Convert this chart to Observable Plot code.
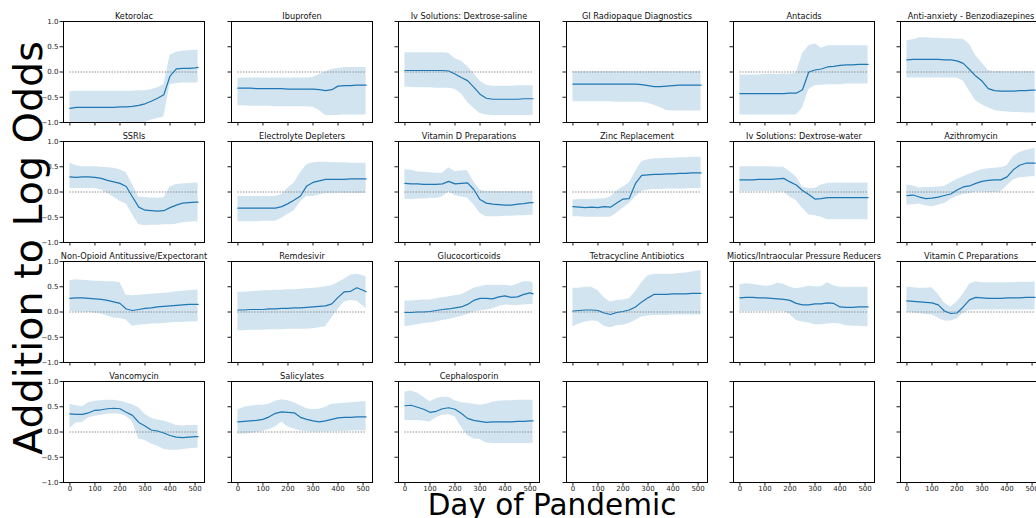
<!DOCTYPE html>
<html>
<head>
<meta charset="utf-8">
<script src="https://cdn.jsdelivr.net/npm/d3@7"></script>
<script src="https://cdn.jsdelivr.net/npm/@observablehq/plot@0.6"></script>
<style>
  html, body { margin: 0; padding: 0; background: white; }
  #chart { position: relative; width: 1036px; height: 518px; overflow: hidden; font-family: "DejaVu Sans", sans-serif; }
</style>
</head>
<body>
<div id="chart"></div>
<script>
const days = [0,25,50,75,100,125,150,175,200,225,250,275,300,325,350,375,400,425,450,475,500,512];
const xTicks = [0,100,200,300,400,500];
const yTicks = [-1,-0.5,0,0.5,1];
const drugNames = ["Ketorolac","Ibuprofen","Iv Solutions: Dextrose-saline","GI Radiopaque Diagnostics","Antacids","Anti-anxiety - Benzodiazepines",
  "SSRIs","Electrolyte Depleters","Vitamin D Preparations","Zinc Replacement","Iv Solutions: Dextrose-water","Azithromycin",
  "Non-Opioid Antitussive/Expectorant","Remdesivir","Glucocorticoids","Tetracycline Antibiotics","Miotics/Intraocular Pressure Reducers","Vitamin C Preparations",
  "Vancomycin","Salicylates","Cephalosporin"];

const mean_ketorolac = [-0.72,-0.70,-0.70,-0.70,-0.70,-0.70,-0.70,-0.70,-0.69,-0.69,-0.68,-0.66,-0.63,-0.58,-0.52,-0.45,-0.08,0.06,0.07,0.07,0.08,0.09];
const hi_ketorolac = [-0.39,-0.38,-0.38,-0.38,-0.38,-0.38,-0.38,-0.38,-0.38,-0.38,-0.38,-0.37,-0.37,-0.35,-0.31,-0.25,0.33,0.39,0.41,0.42,0.43,0.43];
const lo_ketorolac = [-1.2,-1.2,-1.2,-1.2,-1.2,-1.2,-1.2,-1.2,-1.2,-1.2,-1.2,-1.05,-1.0,-0.95,-0.92,-0.89,-0.25,-0.23,-0.22,-0.22,-0.22,-0.22];

const mean_ibuprofen = [-0.32,-0.32,-0.32,-0.33,-0.33,-0.33,-0.33,-0.33,-0.34,-0.34,-0.34,-0.34,-0.34,-0.35,-0.37,-0.35,-0.28,-0.27,-0.27,-0.26,-0.26,-0.26];
const hi_ibuprofen = [-0.13,-0.12,-0.12,-0.12,-0.12,-0.12,-0.12,-0.12,-0.12,-0.12,-0.12,-0.12,-0.11,-0.05,0.0,0.05,0.07,0.09,0.09,0.09,0.09,0.09];
const lo_ibuprofen = [-0.67,-0.67,-0.68,-0.68,-0.68,-0.68,-0.69,-0.69,-0.69,-0.69,-0.69,-0.69,-0.70,-0.76,-0.86,-0.86,-0.86,-0.85,-0.85,-0.85,-0.85,-0.85];

const mean_dexSaline = [0.03,0.03,0.03,0.03,0.03,0.03,0.03,0.02,-0.04,-0.11,-0.17,-0.30,-0.44,-0.52,-0.54,-0.54,-0.54,-0.54,-0.54,-0.53,-0.53,-0.53];
const hi_dexSaline = [0.38,0.38,0.38,0.38,0.38,0.38,0.38,0.37,0.26,0.22,0.11,-0.03,-0.18,-0.26,-0.28,-0.28,-0.28,-0.28,-0.27,-0.27,-0.27,-0.27];
const lo_dexSaline = [-0.30,-0.30,-0.31,-0.31,-0.31,-0.32,-0.32,-0.32,-0.34,-0.43,-0.60,-0.72,-0.82,-0.85,-0.86,-0.86,-0.86,-0.86,-0.86,-0.86,-0.86,-0.86];

const mean_giRadio = [-0.24,-0.24,-0.24,-0.24,-0.24,-0.24,-0.24,-0.24,-0.24,-0.24,-0.24,-0.25,-0.27,-0.29,-0.29,-0.28,-0.27,-0.26,-0.26,-0.26,-0.26,-0.26];
const hi_giRadio = [0.01,0.01,0.01,0.01,0.01,0.01,0.01,0.01,0.01,0.01,0.01,0.01,0.01,0.01,0.01,0.01,0.01,0.01,0.01,0.01,0.01,0.01];
const lo_giRadio = [-0.59,-0.59,-0.59,-0.59,-0.59,-0.59,-0.59,-0.60,-0.60,-0.60,-0.60,-0.60,-0.62,-0.66,-0.71,-0.76,-0.77,-0.77,-0.77,-0.77,-0.77,-0.77];

const mean_antacids = [-0.43,-0.43,-0.43,-0.43,-0.43,-0.43,-0.43,-0.43,-0.42,-0.42,-0.35,0.0,0.04,0.06,0.10,0.11,0.13,0.14,0.14,0.15,0.15,0.15];
const hi_antacids = [-0.06,-0.06,-0.06,-0.06,-0.05,-0.05,-0.05,-0.04,-0.04,-0.03,0.36,0.52,0.56,0.47,0.52,0.52,0.52,0.52,0.52,0.52,0.52,0.52];
const lo_antacids = [-0.85,-0.85,-0.85,-0.85,-0.85,-0.85,-0.85,-0.85,-0.85,-0.85,-0.72,-0.35,-0.27,-0.26,-0.25,-0.25,-0.25,-0.24,-0.24,-0.24,-0.24,-0.24];

const mean_benzo = [0.24,0.25,0.25,0.25,0.25,0.25,0.24,0.24,0.22,0.17,0.05,-0.08,-0.18,-0.33,-0.37,-0.38,-0.38,-0.38,-0.37,-0.37,-0.36,-0.36];
const hi_benzo = [0.62,0.64,0.68,0.68,0.67,0.67,0.66,0.66,0.65,0.65,0.55,0.32,0.18,0.03,0.01,0.01,0.01,0.01,0.01,0.01,0.01,0.01];
const lo_benzo = [-0.12,-0.12,-0.12,-0.12,-0.12,-0.12,-0.12,-0.12,-0.12,-0.18,-0.38,-0.57,-0.65,-0.71,-0.76,-0.78,-0.79,-0.80,-0.80,-0.81,-0.81,-0.81];

const mean_ssri = [0.30,0.29,0.30,0.30,0.29,0.27,0.23,0.20,0.17,0.11,-0.10,-0.30,-0.36,-0.37,-0.38,-0.37,-0.31,-0.26,-0.22,-0.21,-0.20,-0.20];
const hi_ssri = [0.57,0.52,0.50,0.50,0.50,0.49,0.48,0.47,0.44,0.38,0.15,-0.10,-0.11,-0.12,-0.12,-0.12,0.10,0.15,0.16,0.17,0.18,0.18];
const lo_ssri = [0.07,0.07,0.07,0.07,0.07,0.04,-0.03,-0.10,-0.19,-0.24,-0.45,-0.65,-0.67,-0.66,-0.66,-0.65,-0.65,-0.64,-0.61,-0.60,-0.59,-0.59];

const mean_electro = [-0.32,-0.32,-0.32,-0.32,-0.32,-0.32,-0.32,-0.29,-0.23,-0.16,-0.08,0.12,0.19,0.22,0.25,0.25,0.25,0.25,0.26,0.26,0.26,0.26];
const hi_electro = [-0.09,-0.09,-0.09,-0.09,-0.09,-0.09,-0.09,-0.05,0.08,0.18,0.38,0.54,0.58,0.59,0.59,0.58,0.58,0.58,0.57,0.57,0.57,0.57];
const lo_electro = [-0.59,-0.59,-0.59,-0.59,-0.58,-0.58,-0.58,-0.52,-0.44,-0.37,-0.20,-0.09,-0.09,-0.06,-0.03,-0.03,-0.03,-0.03,-0.03,-0.03,-0.03,-0.03];

const mean_vitD = [0.17,0.16,0.16,0.15,0.15,0.15,0.16,0.21,0.16,0.17,0.18,0.05,-0.15,-0.22,-0.24,-0.25,-0.26,-0.26,-0.24,-0.23,-0.21,-0.21];
const hi_vitD = [0.44,0.43,0.40,0.39,0.38,0.37,0.37,0.48,0.40,0.42,0.42,0.20,0.04,0.01,0.01,0.01,0.01,0.01,0.01,0.01,0.01,0.01];
const lo_vitD = [-0.15,-0.15,-0.14,-0.14,-0.13,-0.13,-0.10,0.0,-0.07,-0.10,-0.12,-0.25,-0.42,-0.49,-0.49,-0.49,-0.48,-0.48,-0.47,-0.47,-0.46,-0.46];

const mean_zinc = [-0.29,-0.30,-0.31,-0.30,-0.31,-0.29,-0.30,-0.22,-0.14,-0.13,0.17,0.33,0.34,0.35,0.35,0.36,0.36,0.37,0.37,0.38,0.38,0.38];
const hi_zinc = [-0.16,-0.15,-0.15,-0.15,-0.14,-0.14,-0.10,0.02,0.10,0.18,0.40,0.60,0.64,0.66,0.66,0.67,0.67,0.68,0.68,0.69,0.69,0.69];
const lo_zinc = [-0.49,-0.49,-0.50,-0.50,-0.50,-0.50,-0.50,-0.42,-0.32,-0.23,-0.10,0.01,0.04,0.05,0.05,0.06,0.06,0.06,0.06,0.07,0.07,0.07];

const mean_dexWater = [0.24,0.24,0.24,0.25,0.25,0.25,0.26,0.27,0.20,0.14,0.03,-0.05,-0.14,-0.13,-0.11,-0.11,-0.11,-0.11,-0.11,-0.11,-0.11,-0.11];
const hi_dexWater = [0.50,0.50,0.50,0.50,0.50,0.50,0.49,0.49,0.40,0.30,0.10,0.07,0.07,0.14,0.17,0.18,0.18,0.18,0.18,0.18,0.18,0.18];
const lo_dexWater = [0.01,0.01,0.01,0.01,0.01,0.01,0.0,0.0,-0.10,-0.17,-0.32,-0.45,-0.47,-0.50,-0.55,-0.55,-0.55,-0.55,-0.55,-0.55,-0.55,-0.55];

const mean_azithro = [-0.07,-0.06,-0.10,-0.13,-0.12,-0.10,-0.07,-0.04,0.04,0.10,0.12,0.17,0.21,0.23,0.24,0.24,0.30,0.44,0.53,0.57,0.57,0.57];
const hi_azithro = [0.14,0.12,0.08,0.09,0.09,0.10,0.11,0.18,0.25,0.30,0.35,0.40,0.44,0.46,0.47,0.48,0.52,0.70,0.78,0.82,0.85,0.86];
const lo_azithro = [-0.26,-0.25,-0.24,-0.27,-0.29,-0.26,-0.23,-0.15,-0.09,-0.05,-0.03,0.0,0.0,-0.01,-0.01,0.0,0.12,0.24,0.28,0.29,0.30,0.30];

const mean_nonOpioid = [0.27,0.28,0.28,0.27,0.26,0.25,0.23,0.20,0.17,0.06,0.03,0.05,0.07,0.08,0.10,0.11,0.12,0.13,0.14,0.15,0.15,0.15];
const hi_nonOpioid = [0.62,0.64,0.63,0.62,0.61,0.61,0.60,0.60,0.58,0.33,0.32,0.33,0.34,0.35,0.36,0.37,0.38,0.40,0.41,0.42,0.43,0.43];
const lo_nonOpioid = [0.01,0.0,0.0,-0.01,-0.02,-0.04,-0.08,-0.12,-0.13,-0.16,-0.28,-0.26,-0.25,-0.24,-0.24,-0.23,-0.22,-0.21,-0.21,-0.20,-0.20,-0.19];

const mean_remdesivir = [0.04,0.04,0.05,0.05,0.05,0.06,0.06,0.07,0.07,0.08,0.08,0.09,0.10,0.11,0.12,0.16,0.29,0.40,0.41,0.48,0.43,0.40];
const hi_remdesivir = [0.39,0.39,0.40,0.41,0.42,0.42,0.43,0.43,0.44,0.44,0.45,0.46,0.47,0.48,0.50,0.52,0.58,0.65,0.73,0.75,0.72,0.70];
const lo_remdesivir = [-0.37,-0.37,-0.36,-0.36,-0.36,-0.35,-0.35,-0.35,-0.34,-0.34,-0.34,-0.34,-0.33,-0.31,-0.29,-0.12,0.05,0.20,0.23,0.22,0.12,0.07];

const mean_gluco = [-0.01,-0.01,0.0,0.0,0.01,0.03,0.05,0.06,0.08,0.10,0.15,0.23,0.27,0.27,0.26,0.30,0.32,0.29,0.30,0.35,0.38,0.36];
const hi_gluco = [0.22,0.22,0.23,0.24,0.24,0.26,0.28,0.30,0.32,0.34,0.40,0.47,0.50,0.53,0.53,0.53,0.53,0.51,0.55,0.60,0.60,0.57];
const lo_gluco = [-0.29,-0.27,-0.25,-0.23,-0.22,-0.20,-0.17,-0.15,-0.12,-0.09,-0.05,0.0,0.02,0.04,0.06,0.11,0.14,0.13,0.13,0.14,0.15,0.15];

const mean_tetra = [0.02,0.03,0.04,0.04,0.03,-0.02,-0.05,-0.01,0.01,0.04,0.10,0.20,0.28,0.35,0.35,0.35,0.36,0.36,0.36,0.37,0.37,0.37];
const hi_tetra = [0.47,0.47,0.49,0.49,0.42,0.28,0.20,0.23,0.24,0.26,0.40,0.58,0.72,0.75,0.75,0.75,0.75,0.76,0.77,0.79,0.81,0.82];
const lo_tetra = [-0.29,-0.24,-0.20,-0.18,-0.19,-0.28,-0.31,-0.27,-0.26,-0.23,-0.17,-0.10,-0.08,-0.07,-0.07,-0.07,-0.06,-0.06,-0.06,-0.06,-0.06,-0.06];

const mean_miotics = [0.28,0.29,0.29,0.28,0.28,0.27,0.26,0.25,0.23,0.17,0.14,0.14,0.16,0.16,0.18,0.17,0.10,0.09,0.09,0.10,0.10,0.10];
const hi_miotics = [0.54,0.56,0.55,0.53,0.51,0.52,0.57,0.55,0.49,0.46,0.48,0.51,0.50,0.50,0.58,0.52,0.49,0.49,0.49,0.49,0.49,0.49];
const lo_miotics = [0.01,0.01,0.01,0.01,0.01,0.01,0.01,0.01,-0.05,-0.17,-0.20,-0.22,-0.25,-0.25,-0.24,-0.23,-0.24,-0.27,-0.28,-0.28,-0.29,-0.29];

const mean_vitC = [0.22,0.21,0.20,0.19,0.18,0.14,0.02,-0.03,-0.02,0.10,0.24,0.29,0.28,0.27,0.27,0.27,0.28,0.28,0.28,0.29,0.29,0.29];
const hi_vitC = [0.49,0.48,0.47,0.47,0.48,0.35,0.18,0.10,0.20,0.35,0.55,0.60,0.58,0.58,0.58,0.58,0.58,0.58,0.59,0.59,0.59,0.59];
const lo_vitC = [-0.01,-0.02,-0.03,-0.05,-0.06,-0.12,-0.18,-0.18,-0.14,-0.03,0.03,0.04,0.04,0.04,0.04,0.04,0.04,0.04,0.04,0.04,0.04,0.04];

const mean_vanco = [0.36,0.35,0.35,0.38,0.43,0.44,0.46,0.47,0.46,0.39,0.33,0.19,0.12,0.04,0.02,-0.02,-0.07,-0.10,-0.11,-0.10,-0.09,-0.09];
const hi_vanco = [0.55,0.52,0.50,0.58,0.61,0.62,0.63,0.63,0.61,0.58,0.54,0.48,0.35,0.27,0.24,0.22,0.18,0.13,0.12,0.13,0.13,0.13];
const lo_vanco = [0.07,0.18,0.19,0.28,0.31,0.33,0.35,0.36,0.35,0.31,0.20,-0.14,-0.17,-0.24,-0.28,-0.34,-0.36,-0.36,-0.35,-0.33,-0.32,-0.32];

const mean_salicyl = [0.20,0.21,0.22,0.23,0.25,0.30,0.37,0.40,0.39,0.38,0.29,0.25,0.22,0.20,0.22,0.25,0.28,0.29,0.29,0.30,0.30,0.30];
const hi_salicyl = [0.44,0.49,0.51,0.53,0.53,0.55,0.61,0.64,0.62,0.58,0.52,0.46,0.44,0.45,0.49,0.55,0.56,0.57,0.58,0.59,0.60,0.60];
const lo_salicyl = [-0.05,-0.04,-0.03,-0.01,0.01,0.05,0.10,0.20,0.10,0.06,0.02,0.01,0.0,0.0,0.0,0.01,0.01,0.01,0.02,0.02,0.02,0.02];

const mean_cepha = [0.52,0.53,0.49,0.45,0.39,0.41,0.46,0.48,0.45,0.37,0.27,0.23,0.21,0.19,0.20,0.20,0.20,0.20,0.21,0.21,0.22,0.22];
const hi_cepha = [0.79,0.81,0.77,0.69,0.60,0.66,0.69,0.69,0.62,0.58,0.57,0.55,0.53,0.55,0.59,0.61,0.62,0.62,0.63,0.63,0.63,0.63];
const lo_cepha = [0.23,0.23,0.23,0.22,0.20,0.28,0.33,0.34,0.30,0.10,-0.07,-0.14,-0.15,-0.22,-0.23,-0.23,-0.23,-0.23,-0.23,-0.23,-0.23,-0.23];

const seriesList = [
  [mean_ketorolac, lo_ketorolac, hi_ketorolac],
  [mean_ibuprofen, lo_ibuprofen, hi_ibuprofen],
  [mean_dexSaline, lo_dexSaline, hi_dexSaline],
  [mean_giRadio, lo_giRadio, hi_giRadio],
  [mean_antacids, lo_antacids, hi_antacids],
  [mean_benzo, lo_benzo, hi_benzo],
  [mean_ssri, lo_ssri, hi_ssri],
  [mean_electro, lo_electro, hi_electro],
  [mean_vitD, lo_vitD, hi_vitD],
  [mean_zinc, lo_zinc, hi_zinc],
  [mean_dexWater, lo_dexWater, hi_dexWater],
  [mean_azithro, lo_azithro, hi_azithro],
  [mean_nonOpioid, lo_nonOpioid, hi_nonOpioid],
  [mean_remdesivir, lo_remdesivir, hi_remdesivir],
  [mean_gluco, lo_gluco, hi_gluco],
  [mean_tetra, lo_tetra, hi_tetra],
  [mean_miotics, lo_miotics, hi_miotics],
  [mean_vitC, lo_vitC, hi_vitC],
  [mean_vanco, lo_vanco, hi_vanco],
  [mean_salicyl, lo_salicyl, hi_salicyl],
  [mean_cepha, lo_cepha, hi_cepha]
];

const chart = document.getElementById("chart");
const nCols = 6, nRows = 4;
const panelW = 141, panelH = 101;
const x0 = 63.3, y0 = 21.3, dxCol = 167.4, dyRow = 120;
const xPad = 0.05 * (days[days.length - 1] - days[0]);
const fmtY = d3.format(".1f");
const blue = "#1f77b4";

for (let r = 0; r < nRows; r++) {
  for (let c = 0; c < nCols; c++) {
    const k = r * nCols + c;
    const marks = [];
    if (k < seriesList.length) {
      const [m, lo, hi] = seriesList[k];
      const rows = days.map((d, i) => ({d, m: m[i], lo: lo[i], hi: hi[i]}));
      marks.push(Plot.areaY(rows, {x: "d", y1: "lo", y2: "hi", fill: blue, fillOpacity: 0.2, clip: true}));
      marks.push(Plot.ruleY([0], {x1: days[0], x2: days[days.length - 1], stroke: "#8a8a8a", strokeWidth: 1.1, strokeDasharray: "1.4,1.4"}));
      marks.push(Plot.lineY(rows, {x: "d", y: "m", stroke: blue, strokeWidth: 1.2, clip: true}));
      marks.push(Plot.text([drugNames[k]], {text: d => d, frameAnchor: "top", dy: -3, lineAnchor: "bottom", fontSize: 8.2, fill: "#111"}));
    }
    marks.push(Plot.frame({stroke: "black", strokeWidth: 1}));
    marks.push(Plot.axisX({ticks: xTicks, tickSize: 3.5, tickPadding: 0, label: null,
      tickFormat: r === nRows - 1 ? (d => String(d)) : (() => ""), fontSize: 7}));
    marks.push(Plot.axisY({ticks: yTicks, tickSize: 3.5, tickPadding: 1.5, label: null,
      tickFormat: c === 0 ? fmtY : (() => ""), fontSize: 7}));
    const svg = Plot.plot({
      width: panelW, height: panelH, margin: 0,
      x: {domain: [days[0] - xPad, days[days.length - 1] + xPad]},
      y: {domain: [-1, 1]},
      style: {position: "absolute", left: (x0 + dxCol * c) + "px", top: (y0 + dyRow * r) + "px",
        overflow: "visible", background: "none", color: "#1a1a1a", fontFamily: "DejaVu Sans, sans-serif", maxWidth: "none"},
      marks
    });
    chart.appendChild(svg);
  }
}

// Overall axis titles
const ns = "http://www.w3.org/2000/svg";
const overlay = document.createElementNS(ns, "svg");
overlay.setAttribute("width", 1036);
overlay.setAttribute("height", 518);
overlay.style.position = "absolute";
overlay.style.left = "0px";
overlay.style.top = "0px";
overlay.style.pointerEvents = "none";
const yLab = document.createElementNS(ns, "text");
yLab.setAttribute("transform", "translate(42,248) rotate(-90)");
yLab.setAttribute("text-anchor", "middle");
yLab.setAttribute("font-family", "DejaVu Sans, sans-serif");
yLab.setAttribute("font-size", "39.6");
yLab.textContent = "Addition to Log Odds";
const xLab = document.createElementNS(ns, "text");
xLab.setAttribute("x", 552);
xLab.setAttribute("y", 515);
xLab.setAttribute("text-anchor", "middle");
xLab.setAttribute("font-family", "DejaVu Sans, sans-serif");
xLab.setAttribute("font-size", "29.5");
xLab.textContent = "Day of Pandemic";
overlay.appendChild(yLab);
overlay.appendChild(xLab);
chart.appendChild(overlay);
</script>
</body>
</html>
